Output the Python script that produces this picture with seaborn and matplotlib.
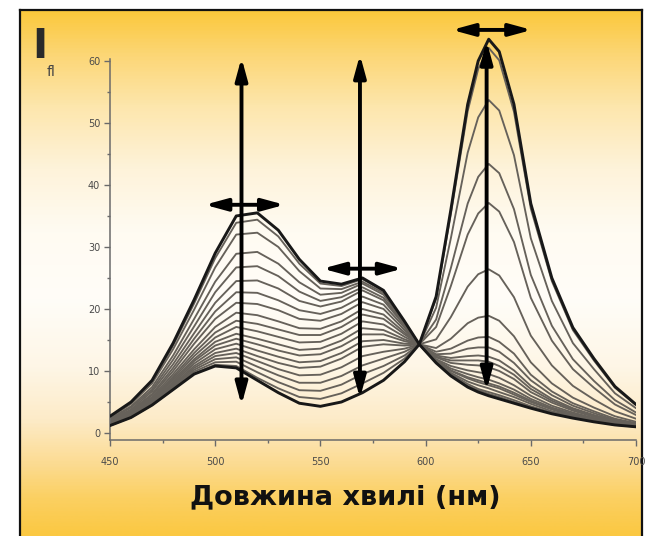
import numpy as np
import pandas as pd
import matplotlib
matplotlib.use("Agg")
import matplotlib.pyplot as plt
import seaborn as sns
from matplotlib.colors import LinearSegmentedColormap
from matplotlib.ticker import MultipleLocator, FixedLocator
from matplotlib.patches import ArrowStyle

# ---------------- data ----------------
wavelength = [450, 460, 470, 480, 490, 500, 510, 520, 530, 540, 550, 560, 570, 580, 590,
              597, 605, 612, 620, 625, 630, 635, 642, 650, 660, 670, 680, 690, 700]

spec_01 = [2.7, 5.0, 8.5, 14.5, 21.5, 29.0, 35.0, 35.5, 32.7, 28.0, 24.5, 24.0, 25.0, 23.0, 18.0,
           14.3, 11.3, 9.2, 7.4, 6.6, 6.0, 5.5, 4.8, 4.0, 3.1, 2.4, 1.8, 1.3, 1.0]
spec_02 = [2.6, 4.9, 8.3, 14.1, 20.9, 28.2, 33.9, 34.4, 31.7, 27.3, 24.1, 23.7, 24.8, 22.9, 17.9,
           14.3, 11.4, 9.3, 7.6, 6.9, 6.3, 5.8, 5.0, 4.2, 3.2, 2.5, 1.9, 1.3, 1.0]
spec_03 = [2.5, 4.7, 8.0, 13.5, 19.9, 26.7, 32.0, 32.3, 30.0, 26.1, 23.3, 23.2, 24.4, 22.6, 17.8,
           14.3, 11.4, 9.5, 7.9, 7.1, 6.6, 6.1, 5.3, 4.3, 3.3, 2.5, 1.9, 1.4, 1.0]
spec_04 = [2.3, 4.3, 7.4, 12.5, 18.4, 24.4, 28.9, 29.2, 27.3, 24.3, 22.3, 22.6, 24.1, 22.3, 17.7,
           14.3, 11.5, 9.7, 8.3, 7.7, 7.2, 6.6, 5.8, 4.7, 3.5, 2.7, 2.0, 1.4, 1.1]
spec_05 = [2.1, 4.1, 7.0, 11.8, 17.2, 22.7, 26.7, 26.9, 25.3, 22.8, 21.3, 21.9, 23.5, 21.8, 17.5,
           14.3, 11.6, 10.0, 8.8, 8.2, 7.7, 7.2, 6.2, 5.0, 3.8, 2.8, 2.1, 1.5, 1.1]
spec_06 = [2.0, 3.8, 6.7, 11.1, 16.1, 21.0, 24.5, 24.6, 23.3, 21.3, 20.4, 21.2, 23.0, 21.4, 17.3,
           14.3, 11.7, 10.1, 9.0, 8.5, 8.0, 7.5, 6.5, 5.2, 3.9, 2.9, 2.2, 1.5, 1.1]
spec_07 = [1.9, 3.6, 6.3, 10.5, 15.2, 19.6, 22.7, 22.6, 21.4, 19.8, 19.2, 20.2, 22.0, 20.7, 17.0,
           14.3, 11.8, 10.4, 9.5, 9.0, 8.6, 8.0, 7.0, 5.5, 4.1, 3.1, 2.3, 1.6, 1.2]
spec_08 = [1.8, 3.4, 6.1, 10.0, 14.4, 18.4, 21.0, 20.8, 19.8, 18.4, 18.1, 19.2, 21.1, 20.0, 16.6,
           14.3, 11.9, 10.8, 10.1, 9.8, 9.5, 8.9, 7.7, 6.0, 4.4, 3.3, 2.4, 1.7, 1.2]
spec_09 = [1.7, 3.3, 5.8, 9.5, 13.5, 17.1, 19.4, 19.0, 18.0, 16.9, 16.8, 18.0, 20.0, 19.1, 16.2,
           14.3, 12.2, 11.3, 11.0, 10.9, 10.6, 10.0, 8.7, 6.6, 4.9, 3.6, 2.6, 1.8, 1.3]
spec_10 = [1.6, 3.1, 5.6, 9.1, 12.9, 16.2, 18.1, 17.6, 16.7, 15.8, 15.8, 17.1, 19.1, 18.4, 15.9,
           14.3, 12.3, 11.7, 11.7, 11.7, 11.5, 10.8, 9.4, 7.1, 5.2, 3.8, 2.8, 1.9, 1.3]
spec_11 = [1.5, 3.0, 5.4, 8.8, 12.4, 15.4, 17.1, 16.4, 15.5, 14.6, 14.7, 16.0, 18.0, 17.5, 15.5,
           14.3, 12.5, 12.1, 12.4, 12.5, 12.3, 11.7, 10.1, 7.6, 5.5, 4.0, 2.9, 2.0, 1.4]
spec_12 = [1.5, 2.9, 5.3, 8.5, 11.9, 14.7, 16.0, 15.2, 14.3, 13.4, 13.6, 14.9, 16.9, 16.6, 15.1,
           14.3, 12.7, 12.8, 13.6, 13.8, 13.8, 13.1, 11.3, 8.5, 6.1, 4.4, 3.2, 2.1, 1.5]
spec_13 = [1.4, 2.9, 5.1, 8.2, 11.6, 14.1, 15.2, 14.3, 13.3, 12.5, 12.7, 14.0, 15.9, 15.9, 14.8,
           14.3, 13.1, 13.6, 14.9, 15.4, 15.5, 14.7, 12.8, 9.4, 6.7, 4.8, 3.5, 2.3, 1.6]
spec_14 = [1.4, 2.8, 5.0, 8.0, 11.2, 13.5, 14.4, 13.3, 12.3, 11.4, 11.6, 12.9, 14.8, 15.0, 14.4,
           14.3, 13.7, 15.2, 17.7, 18.6, 18.9, 18.1, 15.6, 11.4, 8.0, 5.7, 4.1, 2.7, 1.8]
spec_15 = [1.3, 2.7, 4.9, 7.8, 10.8, 12.9, 13.6, 12.4, 11.3, 10.5, 10.7, 12.0, 13.9, 14.3, 14.1,
           14.3, 15.1, 18.7, 23.6, 25.6, 26.4, 25.4, 21.9, 15.7, 10.9, 7.6, 5.4, 3.5, 2.3]
spec_16 = [1.3, 2.7, 4.8, 7.6, 10.5, 12.4, 12.9, 11.6, 10.3, 9.3, 9.4, 10.6, 12.4, 13.1, 13.6,
           14.3, 17.1, 23.7, 32.0, 35.4, 37.1, 35.7, 30.8, 21.8, 14.9, 10.3, 7.3, 4.6, 2.9]
spec_17 = [1.3, 2.7, 4.7, 7.4, 10.2, 11.9, 12.2, 10.7, 9.3, 8.1, 8.1, 9.2, 10.9, 12.0, 13.1,
           14.3, 18.3, 26.6, 37.0, 41.3, 43.4, 41.9, 36.1, 25.5, 17.3, 11.9, 8.4, 5.3, 3.3]
spec_18 = [1.2, 2.6, 4.6, 7.2, 9.9, 11.4, 11.5, 9.8, 8.2, 6.9, 6.8, 7.8, 9.5, 10.8, 12.5,
           14.3, 20.2, 31.4, 45.2, 50.9, 53.7, 52.0, 44.8, 31.4, 21.3, 14.5, 10.3, 6.4, 4.0]
spec_19 = [1.2, 2.5, 4.5, 7.0, 9.6, 11.0, 10.8, 8.9, 7.2, 5.8, 5.5, 6.4, 8.0, 9.7, 12.0,
           14.3, 21.7, 35.3, 51.9, 58.7, 62.1, 60.1, 51.8, 36.2, 24.5, 16.6, 11.7, 7.3, 4.5]
spec_20 = [1.2, 2.5, 4.5, 7.0, 9.5, 10.8, 10.5, 8.5, 6.5, 4.8, 4.3, 5.0, 6.5, 8.5, 11.5,
           14.3, 22.0, 36.0, 53.0, 60.0, 63.5, 61.5, 53.0, 37.0, 25.0, 17.0, 12.0, 7.5, 4.6]

spectra = [spec_01, spec_02, spec_03, spec_04, spec_05, spec_06, spec_07, spec_08, spec_09, spec_10,
           spec_11, spec_12, spec_13, spec_14, spec_15, spec_16, spec_17, spec_18, spec_19, spec_20]

x_ticks = [450, 500, 550, 600, 650, 700]
y_ticks = [0, 10, 20, 30, 40, 50, 60]
y_minor = [5, 15, 25, 35, 45, 55]
x_label = "Довжина хвилі (нм)"

rows = []
for k, s in enumerate(spectra):
    for w, v in zip(wavelength, s):
        rows.append({"curve": k, "wavelength": w, "intensity": v})
df = pd.DataFrame(rows)

# ---------------- figure ----------------
sns.set_style("ticks")
plt.rcParams["font.family"] = ["DejaVu Sans"]

W, H = 646, 536
fig = plt.figure(figsize=(W / 100, H / 100), dpi=100)
fig.patch.set_facecolor("white")

# gradient background inside the frame
bg = fig.add_axes([20 / W, 0, (642 - 20) / W, (H - 10) / H])
stops = [(0.00, "#FBC83C"), (0.08, "#FCD674"), (0.18, "#FDE6AC"), (0.30, "#FEF3DA"),
         (0.42, "#FFFBF2"), (0.55, "#FFFDF8"), (0.68, "#FEF6E6"), (0.78, "#FDEBC8"),
         (0.86, "#FCDC95"), (0.93, "#FBD062"), (1.00, "#FBC842")]
cmap = LinearSegmentedColormap.from_list("bg", stops)
bg.imshow(np.linspace(0, 1, 400).reshape(-1, 1), cmap=cmap, aspect="auto",
          extent=[0, 1, 0, 1], origin="upper")
bg.set_xticks([]); bg.set_yticks([])
for side in ["left", "top", "right"]:
    bg.spines[side].set_color("#111111")
    bg.spines[side].set_linewidth(1.6)
bg.spines["bottom"].set_visible(False)

# main axes
ax_l, ax_r, ax_t, ax_b = 110, 636, 20, 440
ax = fig.add_axes([ax_l / W, 1 - ax_b / H, (ax_r - ax_l) / W, (ax_b - ax_t) / H])
ax.patch.set_alpha(0)

sns.lineplot(data=df[(df.curve > 0) & (df.curve < len(spectra) - 1)], x="wavelength",
             y="intensity", units="curve", estimator=None, sort=False,
             color="#66615a", lw=1.35, ax=ax, zorder=2)
sns.lineplot(data=df[(df.curve == 0) | (df.curve == len(spectra) - 1)], x="wavelength",
             y="intensity", units="curve", estimator=None, sort=False,
             color="#181818", lw=2.1, ax=ax, zorder=3)

ax.set_xlim(450, 700)
ax.set_ylim(-1.13, 66.6)
ax.set_xlabel("")
ax.set_ylabel("")
ax.set_xticks(x_ticks)
ax.set_yticks(y_ticks)
ax.xaxis.set_minor_locator(MultipleLocator(25))
ax.yaxis.set_minor_locator(FixedLocator(y_minor))
for side in ["top", "right"]:
    ax.spines[side].set_visible(False)
for side in ["left", "bottom"]:
    ax.spines[side].set_color("#6a6a6a")
    ax.spines[side].set_linewidth(1.1)
ax.spines["left"].set_bounds(-1.13, 60.3)
ax.tick_params(axis="both", which="major", direction="out", length=4, width=1,
               color="#6a6a6a", labelsize=7, labelcolor="#4a4a4a")
ax.tick_params(axis="both", which="minor", direction="out", length=2.5, width=1,
               color="#6a6a6a")
ax.tick_params(axis="x", which="major", pad=8)
ax.tick_params(axis="y", which="major", pad=3)

# arrows
style = ArrowStyle("<|-|>", head_length=1.1, head_width=0.3)
def arrow(x0, y0, x1, y1):
    ax.annotate("", xy=(x1, y1), xytext=(x0, y0),
                arrowprops=dict(arrowstyle=style, color="black", lw=2.8,
                                mutation_scale=12, shrinkA=0, shrinkB=0),
                zorder=5, annotation_clip=False)

arrow(512.5, 4.5, 512.5, 60.5)
arrow(495, 36.8, 533, 36.8)
arrow(568.8, 5.6, 568.8, 61.0)
arrow(551, 26.5, 589, 26.5)
arrow(629.0, 6.9, 629.0, 63.2)
arrow(612.5, 65.0, 650.5, 65.0)

# texts
fig.text(40 / W, 1 - 47 / H, "I", fontsize=29, fontweight="bold", color="#2a2a2a",
         ha="center", va="center")
fig.text(51 / W, 1 - 72 / H, "fl", fontsize=10, color="#444444", ha="center", va="center")
fig.text(345 / W, 1 - 497 / H, x_label, fontsize=19.5, fontweight="bold",
         color="#111111", ha="center", va="center")

fig.savefig("out.png", dpi=100, facecolor="white")
